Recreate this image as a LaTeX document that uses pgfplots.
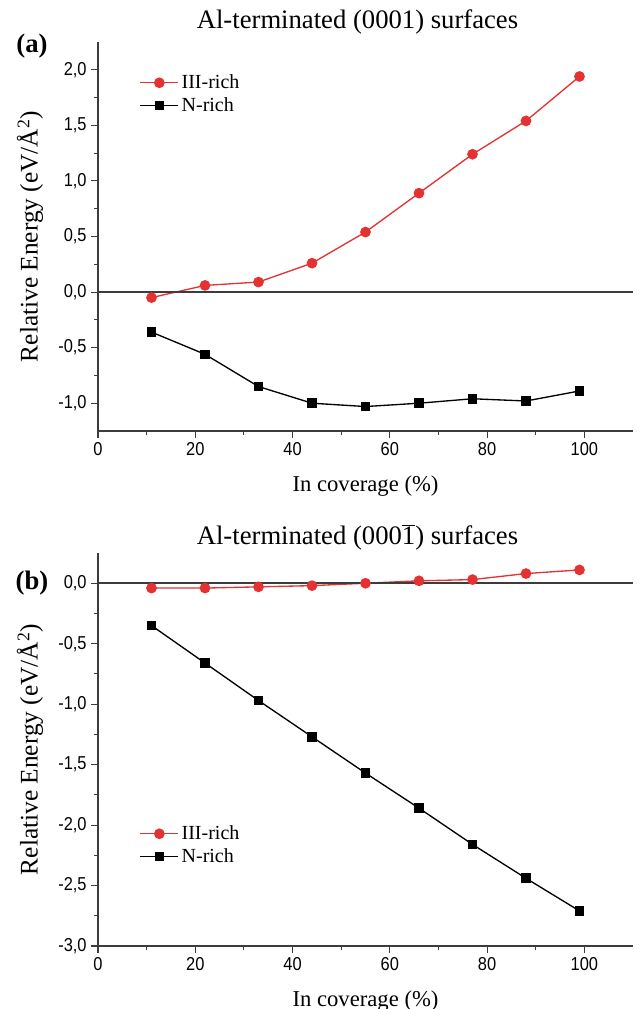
\documentclass[border=0pt]{standalone}
\usepackage{fontspec}
\setmainfont{Liberation Serif}
\newfontfamily\tickfont[FakeStretch=0.88]{Liberation Sans}
\usepackage{pgfplots}
\pgfplotsset{compat=1.18}
\definecolor{redline}{RGB}{228,50,50}
\definecolor{axisgray}{RGB}{60,60,60}

\pgfplotsset{
  panel/.style={
    scale only axis, width=401.25pt,
    axis lines*=left, axis line style={-, line width=1pt, axisgray},
    tick align=outside, major tick length=5pt, minor tick length=3pt,
    tick style={line width=0.8pt, axisgray},
    xmin=0, xmax=110, xtick={0,20,40,60,80,100}, minor x tick num=1,
    minor y tick num=1,
    tick label style={font=\tickfont\fontsize{14}{14}\selectfont},
    /pgf/number format/assume math mode=true,
    yticklabel style={/pgf/number format/.cd, fixed, fixed zerofill, precision=1, use comma},
    xlabel={In coverage (\%)},
    ylabel={Relative Energy (eV/Å\textsuperscript{2})},
    xlabel style={font=\fontsize{17}{17}\selectfont, at={(axis description cs:0.5,0)}, yshift=-41pt, anchor=center},
    ylabel style={font=\fontsize{19}{19}\selectfont, at={(axis description cs:0,0.5)}, yshift=51pt, anchor=center},
    title style={font=\fontsize{20}{20}\selectfont, at={(axis description cs:0.5,1)}, xshift=-6pt, anchor=center},
    legend style={draw=none, fill=none, font=\fontsize{15}{15}\selectfont, anchor=north west, row sep=1pt},
    legend image code/.code={\draw[mark repeat=2, mark phase=2] plot coordinates {(0cm,0cm) (0.5cm,0cm) (1cm,0cm)};},
    legend cell align=left,
    clip=false,
  },
  rich/.style={redline, line width=1pt, mark=*, mark size=3.5pt, mark options={fill=redline, draw=redline}},
  nrich/.style={black, line width=1pt, mark=square*, mark size=3.1pt, mark options={fill=black}},
}

\begin{document}
\begin{tikzpicture}
\begin{axis}[panel, name=a, at={(0,0)}, height=291.75pt,
  ymin=-1.25, ymax=2.25, ytick={-1,-0.5,0,0.5,1,1.5,2},
  title={Al-terminated (0001) surfaces}, title style={yshift=9pt},
  legend style={at={(0.07,0.93)}}]
  \addplot[rich] coordinates {(11,-0.05) (22,0.06) (33,0.09) (44,0.26) (55,0.54) (66,0.89) (77,1.24) (88,1.54) (99,1.94)};
  \addplot[nrich] coordinates {(11,-0.36) (22,-0.56) (33,-0.85) (44,-1.00) (55,-1.03) (66,-1.00) (77,-0.96) (88,-0.98) (99,-0.89)};
  \legend{III-rich, N-rich}
  \draw[axisgray, line width=1.3pt] (axis cs:0,0) -- (axis cs:110,0);
\end{axis}
\node[font=\bfseries\fontsize{20}{20}\selectfont] at ([xshift=-49.5pt, yshift=-3pt]a.north west) {(a)};

\begin{axis}[panel, name=b, at={(0,-386.25pt)}, height=294.75pt,
  ymin=-3, ymax=0.25, ytick={-3,-2.5,-2,-1.5,-1,-0.5,0},
  title={Al-terminated (000$\overline{\mbox{1}}$) surfaces}, title style={yshift=6pt},
  legend style={at={(0.07,0.32)}}]
  \addplot[rich] coordinates {(11,-0.04) (22,-0.04) (33,-0.03) (44,-0.02) (55,0.00) (66,0.02) (77,0.03) (88,0.08) (99,0.11)};
  \addplot[nrich] coordinates {(11,-0.35) (22,-0.66) (33,-0.97) (44,-1.27) (55,-1.57) (66,-1.86) (77,-2.16) (88,-2.44) (99,-2.71)};
  \legend{III-rich, N-rich}
  \draw[axisgray, line width=1.3pt] (axis cs:0,0) -- (axis cs:110,0);
\end{axis}
\node[font=\bfseries\fontsize{20}{20}\selectfont] at ([xshift=-49.5pt, yshift=-22.5pt]b.north west) {(b)};

\pgfresetboundingbox
\useasboundingbox (-73.5pt,323.25pt) rectangle (406.5pt,-433.5pt);
\end{tikzpicture}
\end{document}
